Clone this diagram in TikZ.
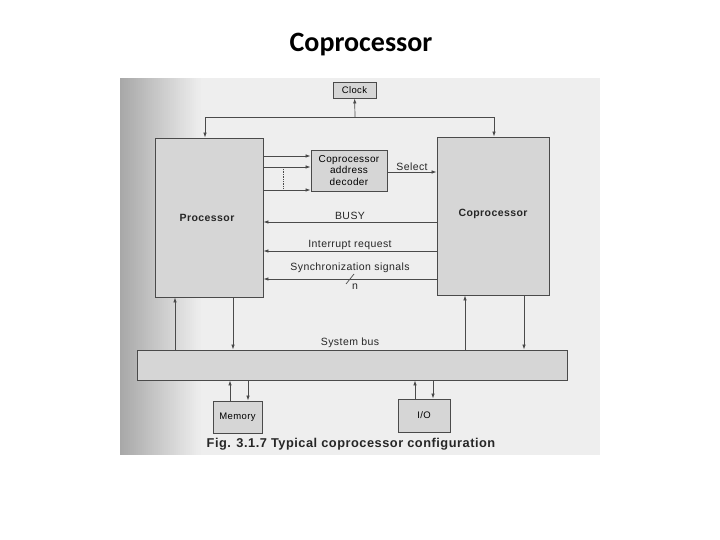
\documentclass[tikz,border=0pt]{standalone}
\usepackage{fontspec}
\setmainfont{Liberation Sans}[LetterSpace=4]
\newfontfamily\titlefont{Carlito}
\usepackage{tikz}
\usetikzlibrary{arrows.meta}

\definecolor{scanpaper}{HTML}{EEEEEE}
\definecolor{scanedge}{HTML}{A8A8A8}
\definecolor{boxfill}{HTML}{D6D6D6}
\definecolor{inkline}{HTML}{4A4A4A}

\begin{document}
\begin{tikzpicture}[x=1pt, y=-1pt, >={Latex[length=5pt,width=3.5pt]},
  block/.style={draw=inkline, line width=0.9pt, rectangle, fill=boxfill, inner sep=1pt},
  sig/.style={draw=inkline, line width=0.7pt},
  lbl/.style={font=\fontsize{10.5}{12}\selectfont, text=black!85, inner sep=1pt}]

\useasboundingbox (0,0) rectangle (720,540);

% scanned page, darker towards the left edge
\fill[scanpaper] (120,78) rectangle (600,455);
\foreach \i in {0,...,39} {
  \pgfmathsetmacro\pct{100-\i*2.5}
  \fill[scanedge!\pct!scanpaper] (120+2*\i,78) rectangle (122.5+2*\i,455);
}

\node [font=\titlefont\bfseries\fontsize{28}{32}\selectfont] (title) at (361,45) {Coprocessor};

\node [block, minimum width=43, minimum height=16] (clk) at (354.5,90) {\fontsize{9.5}{11}\selectfont Clock};

\node [block, minimum width=108, minimum height=159] (proc) at (209,217.5) {};
\node [lbl, font=\bfseries\fontsize{10.5}{12}\selectfont] at (207,218) {Processor};

\node [block, minimum width=112, minimum height=158] (cop) at (493,216) {};
\node [lbl, font=\bfseries\fontsize{10.5}{12}\selectfont] at (493,214) {Coprocessor};

\node [block, minimum width=76, minimum height=41, align=center, font=\fontsize{10}{11.5}\selectfont] (dec) at (349,170.5) {Coprocessor\\address\\decoder};

\node [block, minimum width=430, minimum height=30] (bus) at (352,365) {};
\node [lbl] (buslbl) at (350,343) {System bus};

\node [block, minimum width=49, minimum height=32, font=\fontsize{9.5}{11}\selectfont] (mem) at (237.5,417) {Memory};
\node [block, minimum width=52, minimum height=33, font=\fontsize{9.5}{11}\selectfont] (io) at (424,415.5) {I/O};

% clock distribution
\coordinate (cj) at (355,117);
\draw[sig, ->] (cj) -- (clk);
\draw[sig, ->] (cj) -| ([xshift=-4]proc.north);
\draw[sig, ->] (cj) -| ([xshift=1]cop.north);

% address lines to decoder
\draw[sig, ->] (proc.east |- 0,156) -- (dec.west |- 0,156);
\draw[sig, ->] (proc.east |- 0,167) -- (dec.west |- 0,167);
\draw[sig, ->] (proc.east |- 0,190) -- (dec.west |- 0,190);
\draw[sig, densely dotted, line width=0.9pt] (283,169) -- (283,188);

\draw[sig, ->] (dec.east |- 0,172) -- node[lbl, above] {Select} (cop.west |- 0,172);

% status lines back to processor
\draw[sig, ->] (cop.west |- 0,222) -- node[lbl, above, yshift=1] {BUSY} (proc.east |- 0,222);
\draw[sig, ->] (cop.west |- 0,251) -- node[lbl, above] {Interrupt request} (proc.east |- 0,251);
\draw[sig, ->] (cop.west |- 0,279) -- node[lbl, above, yshift=5] {Synchronization signals} (proc.east |- 0,279);
\draw[sig] (346,284) -- (354,274);
\node [lbl] at (355,287) {n};

% bus connections
\draw[sig, ->] (bus.north -| 175,0) -- (proc.south -| 175,0);
\draw[sig, ->] (proc.south -| 233,0) -- (bus.north -| 233,0);
\draw[sig, ->] (bus.north -| 465,0) -- (cop.south -| 465,0);
\draw[sig, ->] (cop.south -| 524,0) -- (bus.north -| 524,0);

\draw[sig, ->] (mem.north -| 230,0) -- (bus.south -| 230,0);
\draw[sig, ->] (bus.south -| 248,0) -- (mem.north -| 248,0);
\draw[sig, ->] (io.north -| 415,0) -- (bus.south -| 415,0);
\draw[sig, ->] (bus.south -| 433,0) -- (io.north -| 433,0);

\node [font=\bfseries\fontsize{12.8}{14}\selectfont, text=black!85] (cap) at (351,444) {Fig. 3.1.7 Typical coprocessor configuration};

\end{tikzpicture}
\end{document}
